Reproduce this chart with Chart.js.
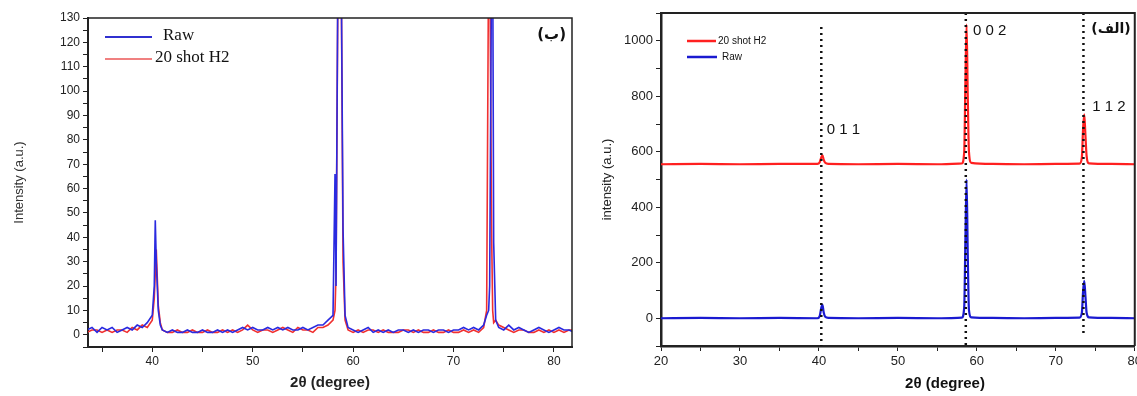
<!DOCTYPE html>
<html>
<head>
<meta charset="utf-8">
<script src="https://cdn.jsdelivr.net/npm/chart.js@4.4.1/dist/chart.umd.min.js"></script>
<style>
body { margin: 0; background: #fff; overflow: hidden; }
#left { position: absolute; left: 0; top: 0; }
#right { position: absolute; left: 590px; top: 0; }
</style>
</head>
<body>
<canvas id="left" width="580" height="396"></canvas>
<canvas id="right" width="555" height="396"></canvas>
<script>
// panel (b): raw vs 20 shot H2, zoomed
const leftAngle = [33.5,34,34.5,35,35.5,36,36.5,37,37.5,38,
    38.5,39,39.5,40,40.2,40.3,40.4,40.6,40.8,41,
    41.5,42,42.5,43,43.5,44,44.5,45,45.5,46,
    46.5,47,47.5,48,48.5,49,49.5,50,50.5,51,
    51.5,52,52.5,53,53.5,54,54.5,55,55.5,56,
    56.5,57,57.5,58,58.2,58.3,58.5,58.8,59,59.2,
    59.5,60,60.5,61,61.5,62,62.5,63,63.5,64,
    64.5,65,65.5,66,66.5,67,67.5,68,68.5,69,
    69.5,70,70.5,71,71.5,72,72.5,73,73.3,73.5,
    73.6,73.8,73.9,74.0,74.2,74.5,75,75.5,76,76.5,
    77,77.5,78,78.5,79,79.5,80,80.5,81,81.5,82];
const leftRaw = [2,3,1,3,2,3,1,2,3,2,
    4,3,5,8,20,47,30,10,4,2,
    1,2,1,1,2,1,1,2,1,1,
    2,1,2,1,2,3,2,3,2,2,
    3,2,3,2,3,2,2,3,2,3,
    4,4,6,8,66,20,160,160,43,8,
    3,2,1,2,3,1,2,1,2,1,
    2,2,1,2,1,2,2,1,2,2,
    1,2,2,3,2,3,2,4,8,10,
    20,160,160,38,6,3,2,4,2,3,
    2,1,2,3,2,1,2,3,2,2,1];
const leftH2 = [1,2,2,1,2,1,2,2,1,3,
    2,4,3,6,15,25,35,12,5,2,
    1,1,2,1,1,2,1,1,2,1,
    1,2,1,2,1,2,4,2,1,2,
    2,1,2,3,2,1,3,2,2,1,
    3,3,4,6,10,25,150,160,30,6,
    2,1,2,1,2,2,1,2,1,1,
    1,2,2,1,2,1,1,2,1,1,
    2,1,1,2,1,2,1,3,10,160,
    160,40,10,5,6,4,3,2,1,2,
    2,1,1,2,1,2,1,2,1,2,2];

// panel (a): full scan, H2 curve offset upward
const rightAngle = [20,25,30,35,39.8,40.1,40.3,40.45,40.6,40.8,
    41.2,45,50,55,58.1,58.4,58.55,58.7,58.85,59.0,
    59.3,62,66,70,73.0,73.3,73.45,73.6,73.75,73.9,
    74.2,77,80];
const rightRaw = [0,1,0,1,0,8,38,48,22,5,
    1,0,1,0,2,40,280,500,230,30,
    3,1,0,1,2,20,95,135,80,20,
    3,1,0];
const rightH2 = [555,556,555,556,556,562,580,587,572,560,
    556,555,556,555,558,600,850,1058,800,600,
    560,556,555,556,557,580,680,735,660,585,
    558,556,555];

const peakAngle = [40.3, 58.6, 73.5];
const peakTop = [1050, 1100, 1100];
const peakBottom = [-100, -100, -55];
const hklText = ['0 1 1', '0 0 2', '1 1 2'];
const hklX = [41.0, 59.5, 74.6];
const hklY = [680, 1034, 763];

function pts(xs, ys) {
    return xs.map((x, i) => ({x: x, y: ys[i]}));
}

function frame(width) {
    return {
        id: 'frame',
        afterDraw(chart) {
            const a = chart.chartArea, ctx = chart.ctx;
            ctx.save();
            ctx.strokeStyle = '#222';
            ctx.lineWidth = width;
            ctx.beginPath();
            ctx.moveTo(a.left, a.top);
            ctx.lineTo(a.right, a.top);
            ctx.lineTo(a.right, a.bottom);
            ctx.stroke();
            ctx.restore();
        }
    };
}

const leftLabels = {
    id: 'leftLabels',
    afterDraw(chart) {
        const ctx = chart.ctx;
        ctx.save();
        ctx.lineWidth = 2;
        ctx.strokeStyle = '#3030d0';
        ctx.beginPath(); ctx.moveTo(105, 37); ctx.lineTo(152, 37); ctx.stroke();
        ctx.strokeStyle = '#f08080';
        ctx.beginPath(); ctx.moveTo(105, 59); ctx.lineTo(152, 59); ctx.stroke();
        ctx.fillStyle = '#111';
        ctx.font = '17px "Liberation Serif"';
        ctx.textBaseline = 'middle';
        ctx.fillText('Raw', 163, 36);
        ctx.fillText('20 shot H2', 155, 58);
        ctx.font = 'bold 15px "DejaVu Sans"';
        ctx.textAlign = 'right';
        ctx.fillText('(ب)', 566, 35);
        ctx.restore();
    }
};

const rightLabels = {
    id: 'rightLabels',
    afterDraw(chart) {
        const ctx = chart.ctx, xs = chart.scales.x, ys = chart.scales.y;
        const off = 590;
        ctx.save();
        ctx.lineWidth = 2.5;
        ctx.strokeStyle = '#ff2020';
        ctx.beginPath(); ctx.moveTo(687 - off, 41); ctx.lineTo(716 - off, 41); ctx.stroke();
        ctx.strokeStyle = '#1a1ad0';
        ctx.beginPath(); ctx.moveTo(687 - off, 57); ctx.lineTo(717 - off, 57); ctx.stroke();
        ctx.fillStyle = '#111';
        ctx.font = '10px "Liberation Sans"';
        ctx.textBaseline = 'middle';
        ctx.fillText('20 shot H2', 718 - off, 41);
        ctx.fillText('Raw', 722 - off, 57);
        ctx.font = '15px "Liberation Sans"';
        hklText.forEach((t, i) => {
            ctx.fillText(t, xs.getPixelForValue(hklX[i]), ys.getPixelForValue(hklY[i]));
        });
        ctx.font = 'bold 14px "DejaVu Sans"';
        ctx.textAlign = 'right';
        ctx.fillText('(الف)', chart.chartArea.right - 4, 29);
        ctx.font = 'bold 15px "Liberation Sans"';
        ctx.textAlign = 'center';
        ctx.fillText('2θ (degree)', 945 - off, 384);
        ctx.restore();
    }
};

function ticksEvery(step) {
    return v => (Math.abs(v % step) < 1e-6 ? v : '');
}

new Chart(document.getElementById('left'), {
    type: 'line',
    data: {
        datasets: [
            {label: 'Raw', data: pts(leftAngle, leftRaw), borderColor: '#2a2ae0', borderWidth: 1.6, pointRadius: 0, tension: 0},
            {label: '20 shot H2', data: pts(leftAngle, leftH2), borderColor: '#f03030', borderWidth: 1.6, pointRadius: 0, tension: 0}
        ]
    },
    options: {
        responsive: false,
        animation: false,
        layout: {padding: {top: 18, right: 8, left: 0, bottom: 0}},
        plugins: {legend: {display: false}, tooltip: {enabled: false}},
        scales: {
            x: {
                type: 'linear', min: 33.6, max: 81.8,
                afterFit: s => { s.height = 49; },
                grid: {drawOnChartArea: false, tickLength: 5, color: '#222'},
                border: {color: '#222', width: 2},
                ticks: {stepSize: 5, includeBounds: false, autoSkip: false, maxRotation: 0,
                    color: '#222', font: {family: 'Liberation Sans', size: 12}, padding: 2,
                    callback: ticksEvery(10)},
                title: {display: true, text: '2θ (degree)', color: '#222',
                    font: {family: 'Liberation Sans', size: 15, weight: 'bold'}, padding: {top: 0, bottom: 4}}
            },
            y: {
                min: -5, max: 130,
                afterFit: s => { s.width = 88; },
                grid: {drawOnChartArea: false, tickLength: 5, color: '#222'},
                border: {color: '#222', width: 2},
                ticks: {stepSize: 5, includeBounds: false, autoSkip: false,
                    color: '#222', font: {family: 'Liberation Sans', size: 12}, padding: 3,
                    callback: ticksEvery(10)},
                title: {display: true, text: 'Intensity (a.u.)', color: '#333',
                    font: {family: 'Liberation Sans', size: 13}, padding: {top: 12, bottom: 0}}
            }
        }
    },
    plugins: [frame(1.5), leftLabels]
});

const peakSets = peakAngle.map((a, i) => ({
    label: 'peak' + i,
    data: [{x: a, y: peakTop[i]}, {x: a, y: peakBottom[i]}],
    borderColor: '#111', borderWidth: 2.5, borderDash: [2, 4], pointRadius: 0
}));

new Chart(document.getElementById('right'), {
    type: 'line',
    data: {
        datasets: peakSets.concat([
            {label: '20 shot H2', data: pts(rightAngle, rightH2), borderColor: '#ff2020', borderWidth: 2.2, pointRadius: 0, cubicInterpolationMode: 'monotone'},
            {label: 'Raw', data: pts(rightAngle, rightRaw), borderColor: '#1a1ad0', borderWidth: 2.2, pointRadius: 0, cubicInterpolationMode: 'monotone'}
        ])
    },
    options: {
        responsive: false,
        animation: false,
        layout: {padding: {top: 13, right: 2, left: 0, bottom: 0}},
        plugins: {legend: {display: false}, tooltip: {enabled: false}},
        scales: {
            x: {
                type: 'linear', min: 20, max: 80,
                afterFit: s => { s.height = 50; },
                grid: {drawOnChartArea: false, tickLength: 5, color: '#222'},
                border: {color: '#222', width: 2.5},
                ticks: {stepSize: 5, autoSkip: false, maxRotation: 0,
                    color: '#222', font: {family: 'Liberation Sans', size: 13}, padding: 3,
                    callback: ticksEvery(10)}
            },
            y: {
                min: -100, max: 1100,
                afterFit: s => { s.width = 71; },
                grid: {drawOnChartArea: false, tickLength: 5, color: '#222'},
                border: {color: '#222', width: 2.5},
                ticks: {stepSize: 100, autoSkip: false,
                    color: '#222', font: {family: 'Liberation Sans', size: 13}, padding: 3,
                    callback: ticksEvery(200)},
                title: {display: true, text: 'intensity (a.u.)', color: '#222',
                    font: {family: 'Liberation Sans', size: 13}, padding: {top: 10, bottom: 0}}
            }
        }
    },
    plugins: [frame(2), rightLabels]
});
</script>
</body>
</html>
